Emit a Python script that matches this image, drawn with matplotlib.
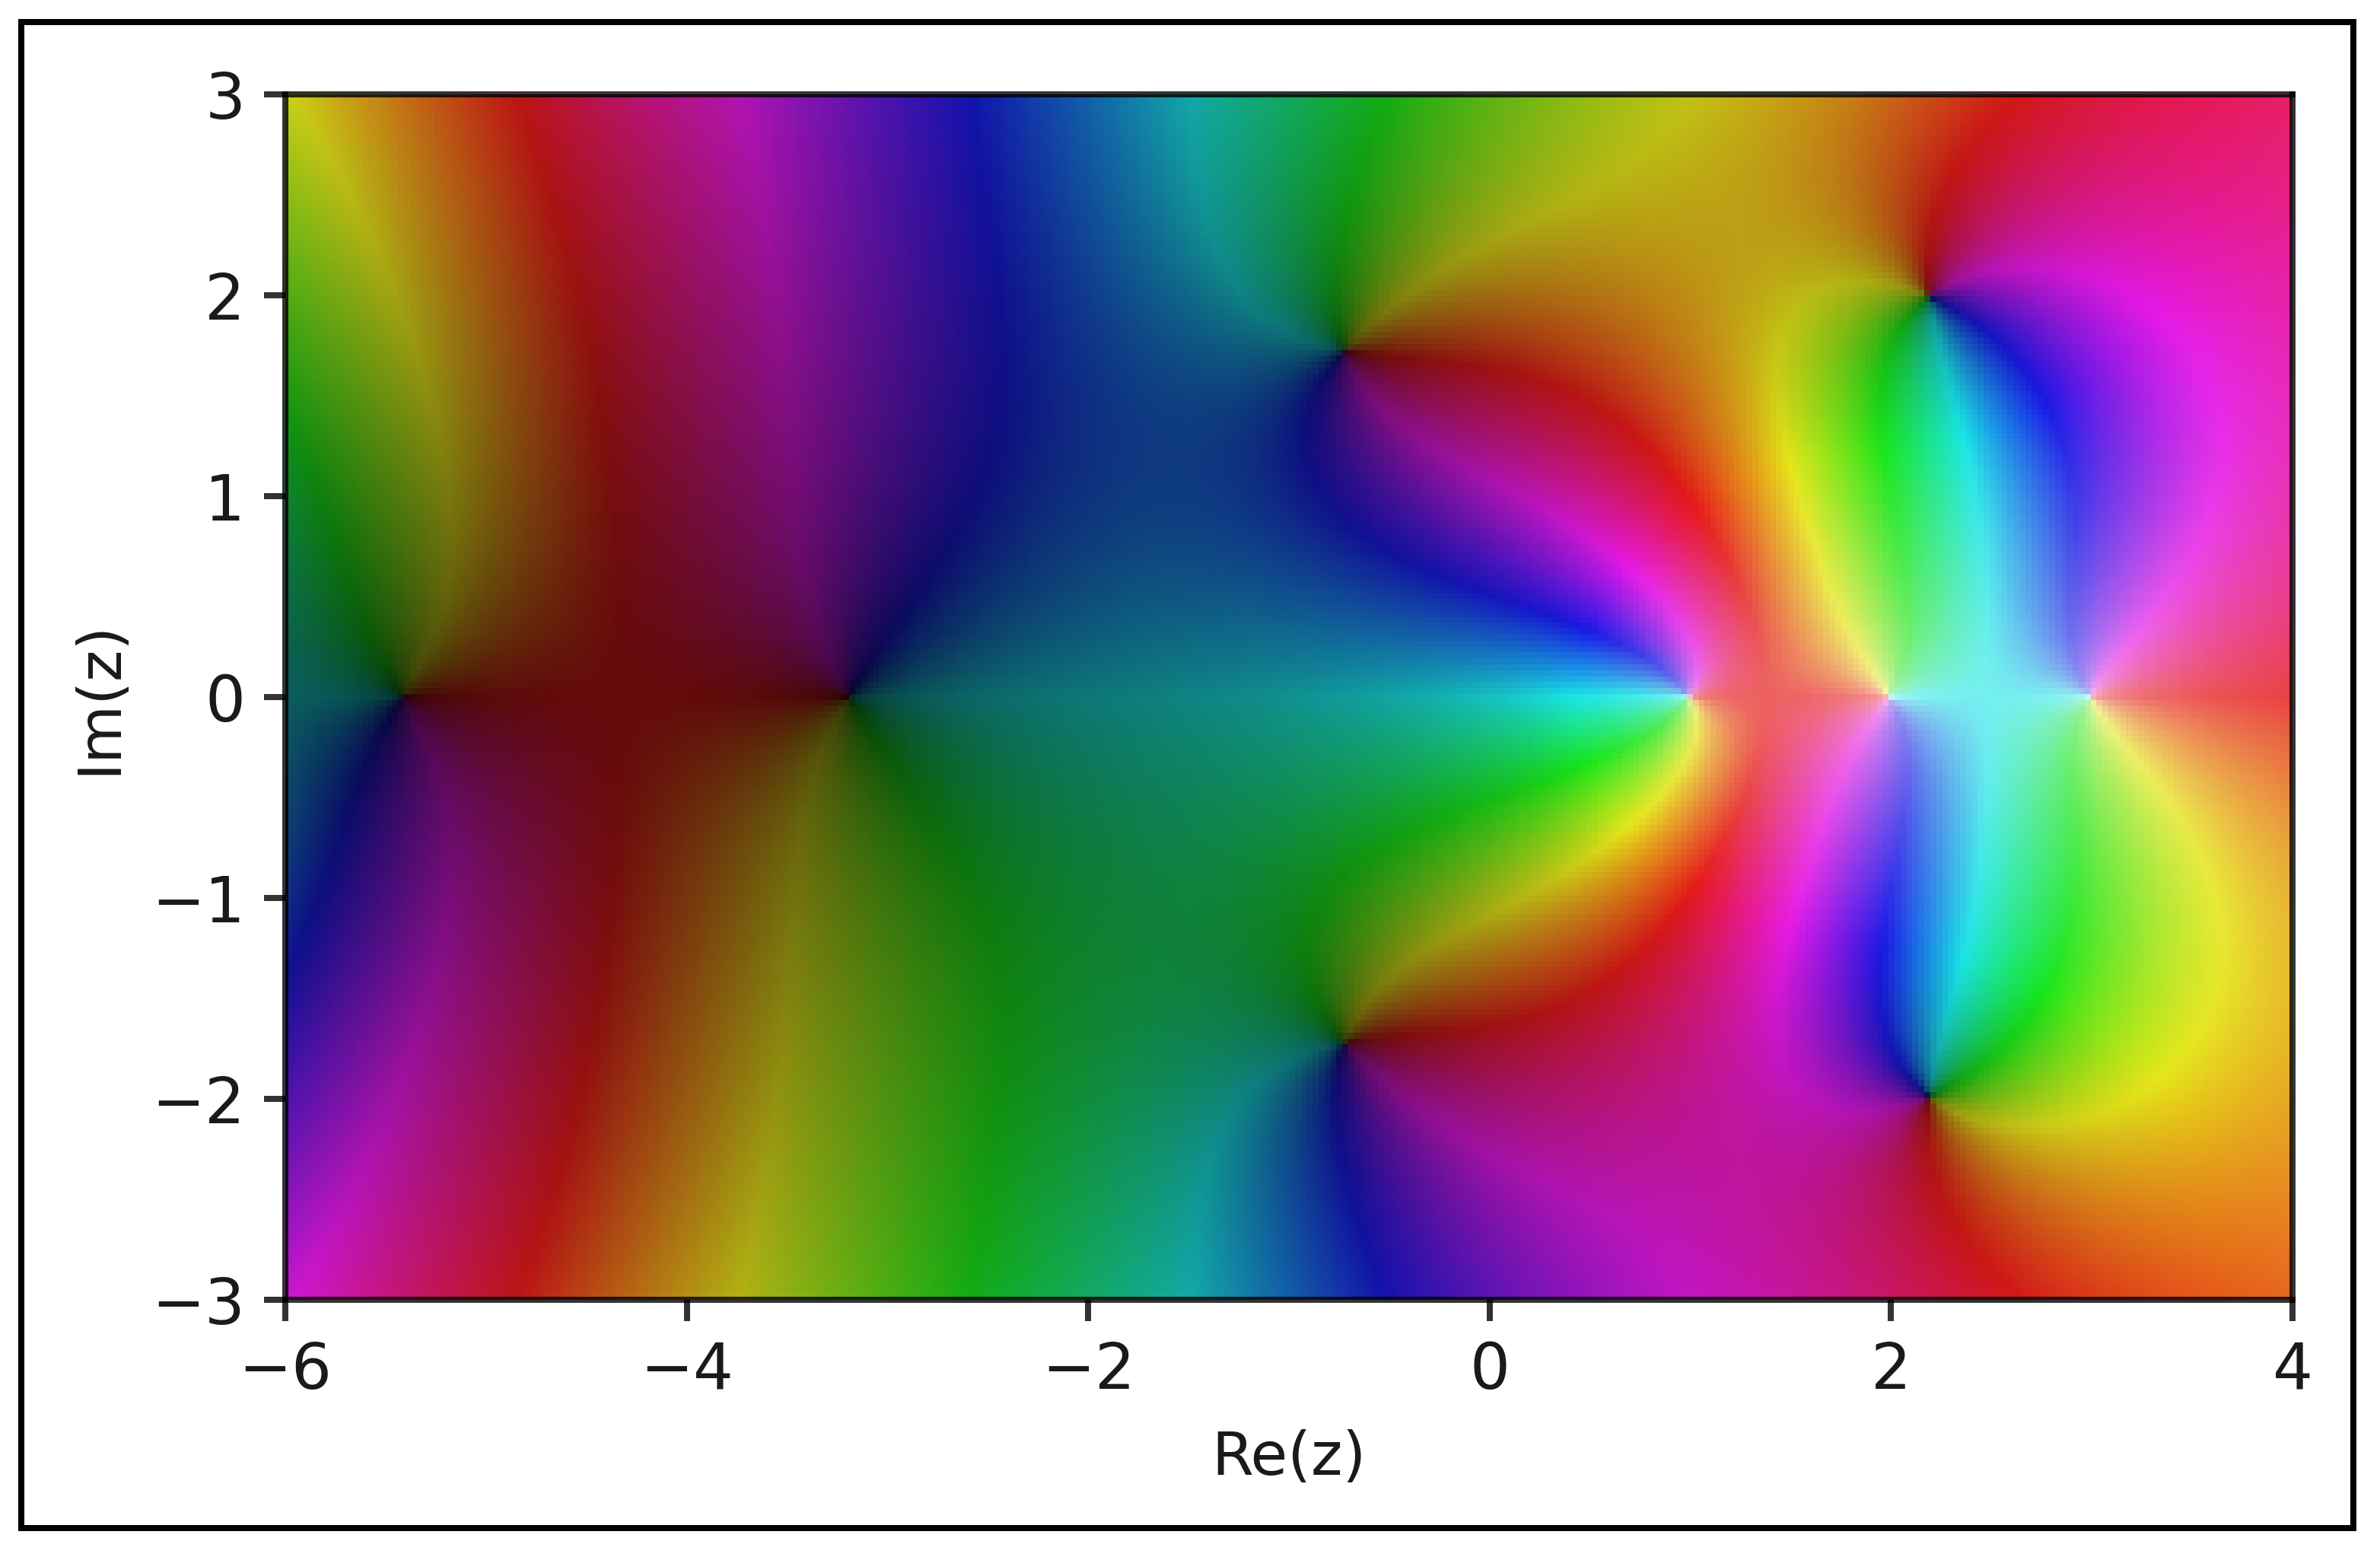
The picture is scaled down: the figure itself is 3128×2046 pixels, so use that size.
"""
Domain colouring plot of a rational function, Re(z) / Im(z) plane
"""

import numpy as np
import matplotlib
matplotlib.use('Agg')
import matplotlib.pyplot as plt
from matplotlib.patches import Rectangle

W, H = 3128, 2046

# zeros and poles, the last two zeros sit outside the frame
zeros_re = [-5.43, -3.2, -0.72, -0.72, 2.2, 2.2, -6.6, 8.0]
zeros_im = [0.0, 0.0, 1.73, -1.73, 2.0, -2.0, 0.0, 0.0]
poles_re = [1.0, 2.0, 3.0]
scale = -7.2e-5
decay = 0.157

x_ticks = [-6, -4, -2, 0, 2, 4]
y_ticks = [-3, -2, -1, 0, 1, 2, 3]


def field(z):
    num = np.ones_like(z)
    for a, b in zip(zeros_re, zeros_im):
        num = num * (z - complex(a, b))
    den = np.ones_like(z)
    for p in poles_re:
        den = den * (z - p)
    with np.errstate(all='ignore'):
        return scale * num / den * np.exp(-decay * z)


def hls_to_rgb(h, l, s):
    m2 = np.where(l <= 0.5, l * (1 + s), l + s - l * s)
    m1 = 2 * l - m2

    def chan(hue):
        hue = hue % 1.0
        out = np.where(hue < 1 / 6, m1 + (m2 - m1) * hue * 6, m1)
        out = np.where((hue >= 1 / 6) & (hue < 0.5), m2, out)
        out = np.where((hue >= 0.5) & (hue < 2 / 3), m1 + (m2 - m1) * (2 / 3 - hue) * 6, out)
        return out

    return np.dstack([chan(h + 1 / 3), chan(h), chan(h - 1 / 3)])


def color_image(w):
    # hue from phase, lightness from modulus
    a = ((np.angle(w) + np.pi) / (2 * np.pi) + 0.5) % 1.0
    b = 1.0 - 1.0 / (1.0 + np.abs(w) ** 0.3)
    return np.clip(hls_to_rgb(a, b, 0.8), 0, 1)


# coarse grid, the picture shows blocks about 8 px wide
xs = np.linspace(-6, 4, 338)
ys = np.linspace(3, -3, 203)
X, Y = np.meshgrid(xs, ys)
img = color_image(field(X + 1j * Y))

fig = plt.figure(figsize=(W / 100, H / 100), dpi=100, facecolor='white')
ax = fig.add_axes([375 / W, 1 - 1708 / H, (3013 - 375) / W, (1708 - 124) / H])
ax.imshow(img, extent=[-6, 4, -3, 3], aspect='auto', interpolation='nearest')

for s in ax.spines.values():
    s.set_linewidth(5.76)
    s.set_color((0, 0, 0, 0.8))
ax.set_xticks(x_ticks)
ax.set_yticks(y_ticks)
ax.tick_params(length=20, width=5.76, color=(0, 0, 0, 0.8), labelsize=60,
               labelcolor='#1a1a1a', pad=18)
ax.set_xlabel('Re(z)', fontsize=57, color='#1a1a1a', labelpad=26)
ax.set_ylabel('Im(z)', fontsize=57, color='#1a1a1a', labelpad=22)

# outer frame
fig.add_artist(Rectangle((28 / W, 1 - 2008 / H), (3093 - 28) / W, (2008 - 29) / H,
                         transform=fig.transFigure, fill=False, edgecolor='black',
                         linewidth=5.76))

fig.savefig('out.png', dpi=100)
